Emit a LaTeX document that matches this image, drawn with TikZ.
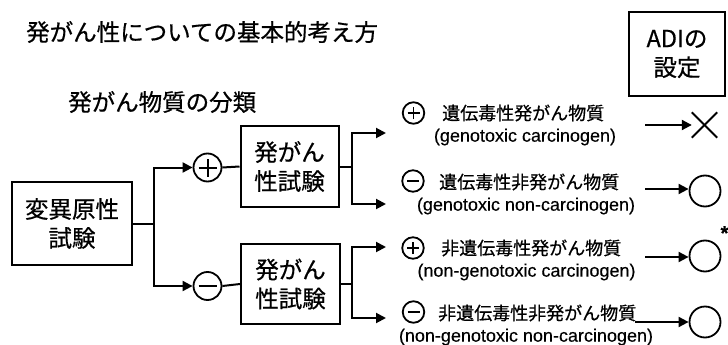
\documentclass[tikz,border=0pt]{standalone}
\usepackage{fontspec}
\setmainfont{Liberation Sans}
\newfontfamily\jp[FakeBold=0.6]{Noto Sans CJK JP}
\newfontfamily\en[FakeBold=0.3]{Liberation Sans}
\usetikzlibrary{arrows.meta}
\begin{document}
\begin{tikzpicture}[x=1pt,y=-1pt,
  ln/.style={line width=2pt},
  arr/.style={line width=2pt,-{Triangle[length=10pt,width=10pt]}},
  box/.style={draw,line width=2pt,align=center,inner sep=0pt,font=\jp\fontsize{23.5}{29}\selectfont},
  bigc/.style={draw,circle,line width=1.8pt,minimum size=28pt,inner sep=0pt},
  smc/.style={draw,circle,line width=1.8pt,minimum size=21.5pt,inner sep=0pt},
  resc/.style={draw,circle,line width=1.8pt,minimum size=31pt,inner sep=0pt},
  jpl/.style={font=\jp\fontsize{18}{20}\selectfont,anchor=west,inner sep=0pt},
  enl/.style={font=\en\fontsize{18}{20}\selectfont,inner sep=0pt},
  ttl/.style={font=\jp\fontsize{23.5}{28}\selectfont,anchor=west,inner sep=0pt}]
\useasboundingbox (0,0) rectangle (728,345);

% titles
\node[ttl] (title) at (26,32) {発がん性についての基本的考え方};
\node[ttl] (sub) at (68,102) {発がん物質の分類};

% ADI box
\node[box,minimum width=96pt,minimum height=84pt] (adi) at (677,54) {ADIの\\設定};

% main boxes
\node[box,minimum width=120pt,minimum height=83pt] (mut) at (72,223.5) {変異原性\\試験};
\node[box,minimum width=98pt,minimum height=81pt] (t1) at (289.5,166.5) {発がん\\性試験};
\node[box,minimum width=99pt,minimum height=80pt] (t2) at (290.5,284) {発がん\\性試験};

% first-stage circles
\node[bigc] (p1) at (207.5,167.5) {};
\draw[ln] ([xshift=-9pt]p1.center) -- ([xshift=9pt]p1.center);
\draw[ln] ([yshift=-9pt]p1.center) -- ([yshift=9pt]p1.center);
\node[bigc] (m1) at (207.5,286) {};
\draw[ln] ([xshift=-9pt]m1.center) -- ([xshift=9pt]m1.center);

% connectors stage 1
\coordinate (j1) at (154,223.5);
\draw[ln] (mut.east) -- (j1);
\draw[arr] (j1) |- (p1.west);
\draw[arr] (j1) |- (m1.west);
\draw[ln] (p1.east) -- (t1.west);
\draw[ln] (m1.east) -- (t2.west);

% connectors stage 2
\coordinate (j2) at (352,166.5);
\coordinate (a1) at (386,133);
\coordinate (a2) at (386,204);
\draw[ln] (t1.east) -- (j2);
\draw[arr] (j2) |- (a1);
\draw[arr] (j2) |- (a2);
\coordinate (j3) at (352,284);
\coordinate (a3) at (386,247);
\coordinate (a4) at (386,318);
\draw[ln] (t2.east) -- (j3);
\draw[arr] (j3) |- (a3);
\draw[arr] (j3) |- (a4);

% result labels
\node[smc] (s1) at (413.5,113) {};
\draw[line width=1.8pt] ([xshift=-6pt]s1.center) -- ([xshift=6pt]s1.center);
\draw[line width=1.8pt] ([yshift=-6pt]s1.center) -- ([yshift=6pt]s1.center);
\node[jpl] (l1) at (442,113) {遺伝毒性発がん物質};
\node[enl] (e1) at (525,137) {(genotoxic carcinogen)};

\node[smc] (s2) at (413,181) {};
\draw[line width=1.8pt] ([xshift=-6pt]s2.center) -- ([xshift=6pt]s2.center);
\node[jpl] (l2) at (439,182) {遺伝毒性非発がん物質};
\node[enl] (e2) at (526,206) {(genotoxic non-carcinogen)};

\node[smc] (s3) at (413,248) {};
\draw[line width=1.8pt] ([xshift=-6pt]s3.center) -- ([xshift=6pt]s3.center);
\draw[line width=1.8pt] ([yshift=-6pt]s3.center) -- ([yshift=6pt]s3.center);
\node[jpl] (l3) at (441,248) {非遺伝毒性発がん物質};
\node[enl] (e3) at (526.5,272) {(non-genotoxic carcinogen)};

\node[smc] (s4) at (413.5,312) {};
\draw[line width=1.8pt] ([xshift=-6pt]s4.center) -- ([xshift=6pt]s4.center);
\node[jpl] (l4) at (438,313) {非遺伝毒性非発がん物質};
\node[enl] (e4) at (526,337) {(non-genotoxic non-carcinogen)};

% ADI results
\node[minimum size=25pt,inner sep=0pt] (x1) at (704.5,125) {};
\draw[line width=1.8pt] (x1.north west) -- (x1.south east);
\draw[line width=1.8pt] (x1.north east) -- (x1.south west);
\node[resc] (c2) at (705,191) {};
\node[resc] (c3) at (705,256) {};
\node[resc] (c4) at (705,322) {};
\node[font=\en\bfseries\fontsize{20}{20}\selectfont,inner sep=0pt] (ast) at (724.5,233) {*};

\coordinate (b1) at (645,125);
\coordinate (b2) at (645,189);
\coordinate (b3) at (645,257);
\coordinate (b4) at (635,322);
\draw[arr] (b1) -- (x1.west);
\draw[arr] (b2) -- (b2 -| c2.west);
\draw[arr] (b3) -- (b3 -| c3.west);
\draw[arr] (b4) -- (b4 -| c4.west);
\end{tikzpicture}
\end{document}
